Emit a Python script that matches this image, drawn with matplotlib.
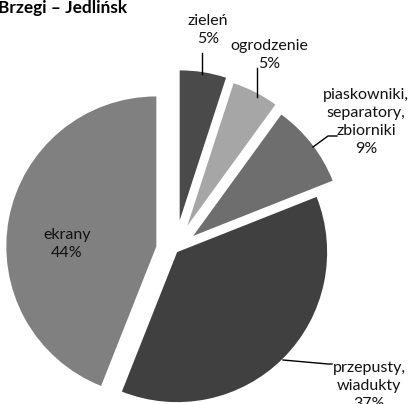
import matplotlib.pyplot as plt

# dane: udzial kosztow (procent)
kategorie = ['zieleń', 'ogrodzenie', 'piaskowniki,\nseparatory,\nzbiorniki',
             'przepusty,\nwiadukty', 'ekrany']
udzial = [5, 5, 9, 37, 44]
kolory = ['#4a4a4a', '#a6a6a6', '#6e6e6e', '#404040', '#808080']
wysuniecie = [30, 27, 23, 3, 19]  # w pikselach

H = 404  # wysokosc w pikselach, os y do gory


def py(y):
    return H - y


plt.rcParams['font.family'] = ['Lato', 'DejaVu Sans']

fig = plt.figure(figsize=(4.1, 4.04), dpi=100)
ax = fig.add_axes([0, 0, 1, 1])

ax.pie(udzial, colors=kolory, explode=wysuniecie, startangle=90,
       counterclock=False, radius=150, center=(175, py(250)),
       wedgeprops=dict(linewidth=0))

ax.set_aspect('equal')
ax.set_xlim(0, 410)
ax.set_ylim(0, H)
ax.axis('off')

fs = 11.5
# etykiety: (tekst, x, y srodka bloku)
etykiety = [
    (kategorie[0] + f'\n{udzial[0]}%', 208, 30),
    (kategorie[1] + f'\n{udzial[1]}%', 269, 55),
    (kategorie[2] + f'\n{udzial[2]}%', 366, 122),
    (kategorie[3] + f'\n{udzial[3]}%', 369, 386),
    (kategorie[4] + f'\n{udzial[4]}%', 67, 244),
]
for txt, x, y in etykiety:
    ax.text(x, py(y), txt, ha='center', va='center', fontsize=fs,
            linespacing=1.36, color='#111111')

# linie odniesienia
linie = [
    ([202, 202], [53, 74]),
    ([257, 257], [68, 97]),
    ([337, 328, 313], [136, 136, 147]),
    ([283, 328, 332], [360, 364, 364]),
]
for xs, ys in linie:
    ax.plot(xs, [py(v) for v in ys], color='black', lw=1)

ax.text(127, py(8), 'Brzegi – Jedlińsk', ha='right', va='center',
        fontsize=12.4, fontweight='bold')

fig.savefig('out.png', dpi=100)
